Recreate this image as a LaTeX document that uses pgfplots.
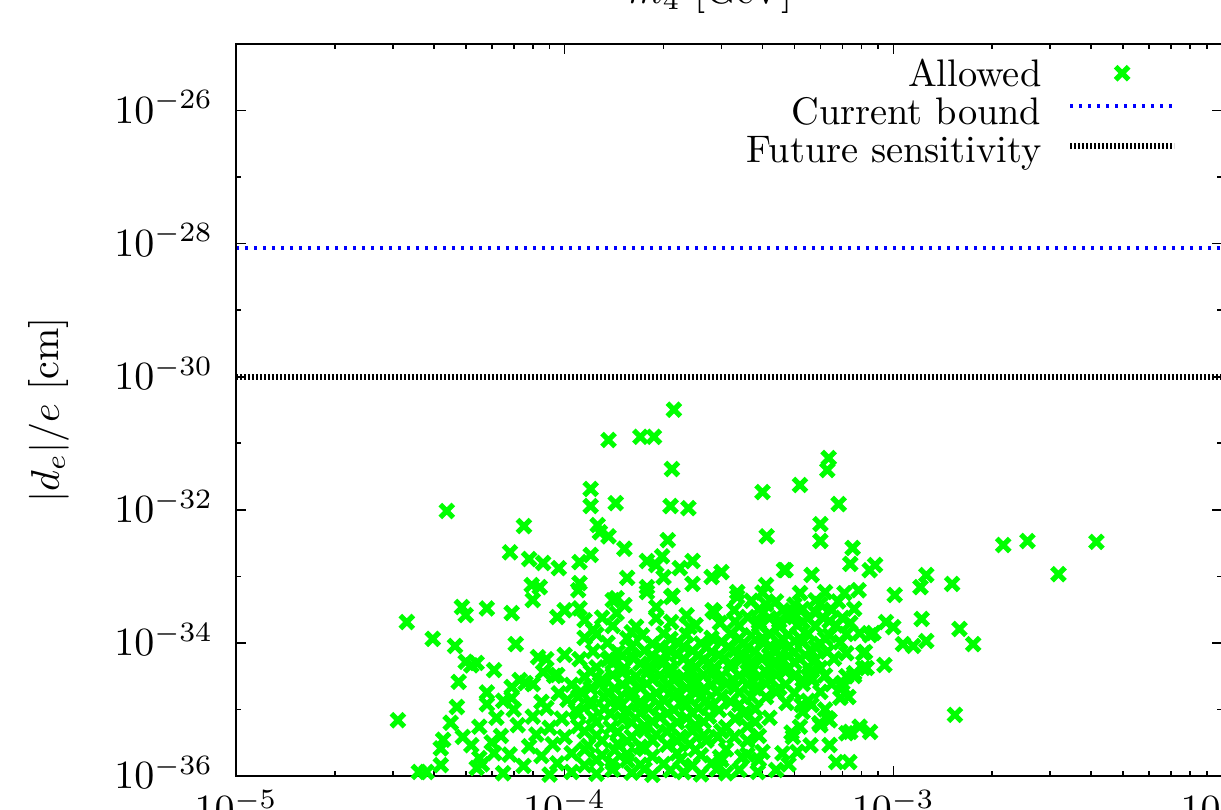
\documentclass[border=0pt]{standalone}
\usepackage{pgfplots}
\pgfplotsset{compat=1.18}
\usetikzlibrary{calc}
\definecolor{ptgreen}{RGB}{0,255,0}
\begin{document}
\begin{tikzpicture}
\begin{axis}[
  name=ax, at={(0,0)}, anchor=south west,
  scale only axis, width=246.5pt, height=183pt,
  xmode=log, ymode=log,
  xmin=1e-5, xmax=1e-2, ymin=1e-36, ymax=1e-25,
  xtick={1e-5,1e-4,1e-3,1e-2},
  ytick={1e-36,1e-34,1e-32,1e-30,1e-28,1e-26},
  minor ytick={1e-35,1e-33,1e-31,1e-29,1e-27,1e-25},
  tick align=inside,
  major tick length=2.5pt, minor tick length=1.25pt,
  tick style={black, line width=0.4pt},
  axis line style={line width=0.7pt},
  yticklabel style={anchor=base east, inner sep=0pt, xshift=-5.5pt, yshift=-3.2pt},
  clip=false, axis on top,
  legend style={draw=none, fill=none, at={(1,1)}, anchor=north east,
    xshift=-11.25pt, yshift=-3.75pt, inner sep=0pt, outer sep=0pt,
    row sep=0pt, column sep=6.5pt, font=\fontsize{9.6}{11}\selectfont,
    nodes={inner sep=0pt, text height=6.8pt, text depth=2.7pt}},
  legend cell align=right, legend plot pos=right,
]
\addplot[only marks, mark=x, mark size=2.3pt, color=ptgreen, line width=1.3pt,
  legend image code/.code={\draw[mark repeat=2,mark phase=2] plot coordinates {(0pt,1.2pt) (13pt,1.2pt) (26pt,1.2pt)};}]
table {
x y
2.15e-4 3.2e-31
1.36e-4 1.12e-31
1.70e-4 1.25e-31
1.87e-4 1.25e-31
2.12e-4 4.1e-32
1.2e-4 2.06e-32
1.2e-4 1.14e-32
1.43e-4 1.26e-32
2.1e-4 1.14e-32
2.38e-4 1.06e-32
4.38e-5 9.6e-33
4.0e-4 1.85e-32
5.2e-4 2.36e-32
6.36e-4 6.0e-32
6.3e-4 3.96e-32
6.82e-4 1.22e-32
7.52e-5 5.7e-33
6.82e-5 2.3e-33
4.12e-4 4.0e-33
6.0e-4 6.1e-33
6.0e-4 3.4e-33
2.06e-4 3.5e-33
1.26e-4 5.9e-33
1.28e-4 4.6e-33
1.36e-4 4.0e-33
1.52e-4 2.6e-33
7.52e-4 2.67e-33
7.4e-4 1.54e-33
8.47e-4 1.24e-33
8.8e-4 1.48e-33
4.7e-4 1.24e-33
5.64e-4 1.05e-33
7.84e-4 6.2e-34
1.01e-3 5.25e-34
1.26e-3 1.05e-33
1.21e-3 6.9e-34
1.51e-3 7.7e-34
2.16e-3 2.96e-33
2.56e-3 3.4e-33
4.15e-3 3.3e-33
3.18e-3 1.08e-33
1.59e-3 1.62e-34
1.75e-3 9.6e-35
1.54e-3 8.3e-36
1.22e-3 2.29e-34
1.26e-3 1.07e-34
1.15e-3 9.0e-35
1.07e-3 9.6e-35
9.5e-4 2.06e-34
1.0e-3 1.73e-34
9.4e-4 4.66e-35
8.1e-4 7.0e-35
8.1e-4 4.2e-35
7.6e-4 3.18e-35
8.5e-4 1.31e-34
7.9e-4 1.4e-34
7.4e-4 2.0e-34
7.0e-4 2.5e-35
7.3e-4 1.54e-35
6.9e-4 1.5e-35
5.64e-4 2.97e-35
5.64e-4 1.17e-35
5.3e-4 9.2e-36
6.4e-4 6.9e-36
6.0e-4 5.8e-36
7.4e-4 4.6e-36
7.9e-4 5.5e-36
8.5e-4 4.6e-36
4.9e-4 4.5e-36
3.31e-5 2.06e-34
3.97e-5 1.15e-34
3.11e-5 6.9e-36
4.87e-5 3.46e-34
5.0e-5 2.62e-34
5.8e-5 3.3e-34
6.9e-5 2.81e-34
4.64e-5 9.0e-35
7.1e-5 9.6e-35
8.3e-5 6.1e-35
5.0e-5 5.2e-35
5.4e-5 5.0e-35
5.2e-5 4.6e-35
6.1e-5 3.9e-35
4.76e-5 2.6e-35
4.7e-5 1.09e-35
5.8e-5 1.2e-35
4.5e-5 6.3e-36
4.9e-5 3.86e-36
4.27e-5 3.5e-36
4.2e-5 2.6e-36
4.2e-5 1.46e-36
3.8e-5 1.15e-36
3.6e-5 1.15e-36
5.5e-5 1.86e-36
5.4e-5 1.32e-36
6.0e-5 3.2e-36
6.1e-5 2.2e-36
7.8e-5 1.82e-33
8.6e-5 1.59e-33
9.6e-5 1.33e-33
1.11e-4 1.64e-33
1.2e-4 2.1e-33
1.78e-4 1.7e-33
1.9e-4 1.48e-33
1.98e-4 2.0e-33
2.24e-4 1.33e-33
2.45e-4 1.7e-33
2.0e-4 9.7e-34
2.13e-4 5.1e-34
2.45e-4 7.7e-34
1.55e-4 9.5e-34
1.78e-4 6.9e-34
2.8e-4 9.8e-34
3.0e-4 1.16e-33
3.35e-4 5.8e-34
4.1e-4 7.4e-34
4.65e-4 1.25e-33
7.94e-5 7.4e-34
8.4e-5 6.9e-34
8.0e-5 4.4e-34
1.1e-4 6.2e-34
1.11e-4 7.9e-34
1.44e-4 4.7e-34
1.9e-4 3.46e-34
2.82e-4 3.1e-34
2.11e-4 4.9e-34
1.52e-4 3.7e-34
1.78e-4 5.8e-34
2.11e-4 2.06e-34
2.35e-4 2.6e-34
2.4e-4 1.73e-34
2.86e-4 2.9e-34
2.97e-4 2.0e-34
3.35e-4 4.9e-34
3.28e-4 3.1e-34
4.1e-4 1.54e-35
4.73e-4 1.25e-35
5.26e-4 1.17e-35
5.65e-4 2.77e-35
5.96e-4 6.2e-36
6.3e-4 7.4e-36
6.4e-4 2.92e-36
6.7e-4 1.62e-36
7.35e-4 1.62e-36
7.2e-4 4.4e-36
7.0e-4 2.17e-35
8.2e-4 7.3e-35
8.3e-4 4.2e-35
7.6e-4 3.5e-35
7.2e-4 7.0e-35
8.7e-4 1.41e-34
2.93e-4 3.86e-36
3.28e-4 3.86e-36
3.47e-4 1.93e-36
2.97e-4 1.93e-36
3.87e-4 1.15e-36
4.4e-4 1.23e-36
4.95e-4 3.86e-36
4.6e-4 2.2e-36
5.1e-4 2.3e-36
4.0e-4 2.3e-36
7.3e-5 2.77e-35
6.9e-5 2.17e-35
6.9e-5 1.48e-35
7.6e-5 2.5e-35
8.6e-5 3.65e-35
9.5e-5 3.3e-35
1.0e-4 6.6e-35
1.11e-4 5.7e-35
1.15e-4 1.19e-34
1.22e-4 1.56e-34
9.5e-5 2.45e-34
1.0e-4 3.1e-34
1.11e-4 3.3e-34
1.15e-4 2.2e-34
1.4e-4 4.4e-34
1.44e-4 2.8e-34
1.6e-4 1.45e-34
1.37e-4 5.9e-35
1.5e-4 6.5e-35
6.5e-5 1.10e-36
9.0e-5 1.05e-36
1.05e-4 1.15e-36
1.25e-4 1.08e-36
1.6e-4 1.12e-36
1.85e-4 1.04e-36
2.3e-4 1.14e-36
2.6e-4 1.06e-36
3.1e-4 1.10e-36
5.6e-5 1.50e-36
7.5e-5 1.42e-36
9.5e-5 1.55e-36
1.15e-4 1.45e-36
1.4e-4 1.58e-36
1.7e-4 1.48e-36
2.0e-4 1.52e-36
2.45e-4 1.44e-36
2.8e-4 1.56e-36
4.8e-4 1.50e-36
6.8e-5 2.1e-36
8.5e-5 2.0e-36
1.05e-4 2.2e-36
1.3e-4 2.05e-36
1.55e-4 2.15e-36
1.85e-4 1.98e-36
2.2e-4 2.2e-36
2.6e-4 2.05e-36
3.6e-4 2.1e-36
5.2e-5 2.9e-36
7.8e-5 2.8e-36
9.2e-5 3.0e-36
1.18e-4 2.85e-36
1.45e-4 3.05e-36
1.7e-4 2.75e-36
2.05e-4 2.95e-36
2.4e-4 3.0e-36
5.6e-4 2.9e-36
6.4e-5 4.0e-36
8.2e-5 4.2e-36
1.0e-4 3.85e-36
1.25e-4 4.1e-36
1.6e-4 3.9e-36
1.9e-4 4.2e-36
2.25e-4 3.9e-36
2.65e-4 4.1e-36
3.9e-4 4.0e-36
5.5e-5 5.5e-36
7.2e-5 5.8e-36
9.0e-5 5.3e-36
1.1e-4 5.6e-36
1.38e-4 5.3e-36
1.75e-4 5.7e-36
2.1e-4 5.4e-36
2.5e-4 5.8e-36
3.1e-4 5.4e-36
3.6e-4 5.6e-36
5.2e-4 5.5e-36
6.2e-5 7.5e-36
8.0e-5 7.8e-36
9.8e-5 7.3e-36
1.22e-4 7.6e-36
1.5e-4 7.2e-36
1.95e-4 7.7e-36
2.35e-4 7.4e-36
2.75e-4 7.8e-36
3.3e-4 7.3e-36
4.2e-4 7.5e-36
7.0e-5 1.0e-35
8.8e-5 1.05e-35
1.08e-4 0.97e-35
1.32e-4 1.03e-35
1.55e-4 0.98e-35
1.8e-4 1.04e-35
2.15e-4 0.99e-35
2.55e-4 1.05e-35
2.95e-4 0.98e-35
3.8e-4 1.02e-35
6.2e-4 1.0e-35
6.5e-5 1.35e-35
8.5e-5 1.30e-35
1.02e-4 1.40e-35
1.2e-4 1.32e-35
1.45e-4 1.38e-35
1.7e-4 1.30e-35
2.0e-4 1.40e-35
2.3e-4 1.33e-35
2.7e-4 1.37e-35
3.2e-4 1.31e-35
5.5e-4 1.35e-35
5.8e-5 1.8e-35
9.6e-5 1.75e-35
1.12e-4 1.85e-35
1.35e-4 1.78e-35
1.6e-4 1.86e-35
1.9e-4 1.76e-35
2.2e-4 1.84e-35
2.5e-4 1.77e-35
2.9e-4 1.85e-35
3.4e-4 1.8e-35
4.4e-4 1.82e-35
5.0e-4 1.76e-35
6.0e-4 1.84e-35
8.0e-5 2.4e-35
1.05e-4 2.35e-35
1.28e-4 2.45e-35
1.5e-4 2.36e-35
1.78e-4 2.44e-35
2.05e-4 2.34e-35
2.45e-4 2.46e-35
2.8e-4 2.38e-35
3.1e-4 2.42e-35
3.6e-4 2.36e-35
4.1e-4 2.45e-35
4.7e-4 2.38e-35
5.3e-4 2.43e-35
6.5e-4 2.4e-35
9.3e-5 3.2e-35
1.15e-4 3.1e-35
1.4e-4 3.3e-35
1.65e-4 3.15e-35
1.95e-4 3.28e-35
2.3e-4 3.12e-35
2.65e-4 3.3e-35
3.0e-4 3.15e-35
3.4e-4 3.25e-35
3.9e-4 3.12e-35
4.4e-4 3.3e-35
5.0e-4 3.18e-35
6.2e-4 3.25e-35
7.2e-4 3.15e-35
1.25e-4 4.3e-35
1.52e-4 4.2e-35
1.8e-4 4.4e-35
2.1e-4 4.25e-35
2.5e-4 4.4e-35
2.85e-4 4.2e-35
3.2e-4 4.35e-35
3.7e-4 4.2e-35
4.2e-4 4.4e-35
4.8e-4 4.25e-35
5.5e-4 4.35e-35
6.0e-4 4.2e-35
8.8e-5 5.7e-35
1.35e-4 5.6e-35
1.62e-4 5.85e-35
1.95e-4 5.6e-35
2.3e-4 5.8e-35
2.65e-4 5.55e-35
3.05e-4 5.8e-35
3.45e-4 5.6e-35
4.0e-4 5.85e-35
4.6e-4 5.6e-35
5.2e-4 5.75e-35
5.8e-4 5.6e-35
6.6e-4 5.8e-35
1.22e-4 7.5e-35
1.45e-4 7.3e-35
1.75e-4 7.7e-35
2.1e-4 7.4e-35
2.45e-4 7.6e-35
2.8e-4 7.3e-35
3.3e-4 7.7e-35
3.8e-4 7.4e-35
4.4e-4 7.6e-35
5.0e-4 7.3e-35
5.6e-4 7.7e-35
6.3e-4 7.4e-35
1.35e-4 1.0e-34
1.85e-4 0.97e-34
2.2e-4 1.03e-34
2.6e-4 0.98e-34
3.0e-4 1.04e-34
3.5e-4 0.97e-34
4.0e-4 1.02e-34
4.5e-4 0.98e-34
5.3e-4 1.03e-34
6.0e-4 0.97e-34
6.9e-4 1.02e-34
1.25e-4 1.35e-34
1.72e-4 1.3e-34
2.0e-4 1.38e-34
2.35e-4 1.32e-34
3.2e-4 1.37e-34
3.7e-4 1.3e-34
4.2e-4 1.38e-34
4.8e-4 1.32e-34
5.5e-4 1.37e-34
6.4e-4 1.3e-34
7.2e-4 1.36e-34
1.4e-4 1.8e-34
1.65e-4 1.75e-34
2.5e-4 1.85e-34
3.4e-4 1.78e-34
3.9e-4 1.84e-34
4.5e-4 1.76e-34
5.1e-4 1.85e-34
5.8e-4 1.78e-34
6.7e-4 1.83e-34
1.3e-4 2.4e-34
1.9e-4 2.35e-34
3.6e-4 2.45e-34
4.2e-4 2.36e-34
5.0e-4 2.44e-34
5.5e-4 2.35e-34
6.1e-4 2.43e-34
7.0e-4 2.38e-34
3.9e-4 3.2e-34
4.6e-4 3.1e-34
5.3e-4 3.25e-34
6.5e-4 3.15e-34
7.6e-4 3.25e-34
3.7e-4 4.3e-34
4.4e-4 4.2e-34
5.8e-4 4.35e-34
6.8e-4 4.2e-34
4.0e-4 5.7e-34
5.2e-4 5.6e-34
6.2e-4 5.8e-34
7.1e-4 5.6e-34
1.4e-4 1.25e-36
1.75e-4 1.28e-36
2.1e-4 1.22e-36
2.9e-4 1.26e-36
3.4e-4 1.24e-36
1.25e-4 1.75e-36
1.55e-4 1.72e-36
2.25e-4 1.78e-36
3.0e-4 1.74e-36
3.9e-4 1.76e-36
1.15e-4 2.5e-36
1.42e-4 2.45e-36
1.75e-4 2.55e-36
2.5e-4 2.48e-36
3.1e-4 2.52e-36
1.3e-4 3.4e-36
1.55e-4 3.35e-36
1.85e-4 3.45e-36
2.2e-4 3.38e-36
2.7e-4 3.42e-36
3.6e-4 3.4e-36
1.15e-4 4.7e-36
1.45e-4 4.6e-36
1.75e-4 4.8e-36
2.05e-4 4.65e-36
2.45e-4 4.75e-36
3.0e-4 4.7e-36
1.25e-4 6.5e-36
1.6e-4 6.4e-36
1.85e-4 6.6e-36
2.2e-4 6.45e-36
2.65e-4 6.55e-36
3.8e-4 6.5e-36
1.1e-4 8.7e-36
1.38e-4 8.6e-36
1.7e-4 8.8e-36
2.05e-4 8.65e-36
2.45e-4 8.75e-36
3.5e-4 8.7e-36
1.2e-4 1.17e-35
1.45e-4 1.15e-35
1.68e-4 1.19e-35
1.95e-4 1.16e-35
2.35e-4 1.18e-35
2.75e-4 1.15e-35
3.4e-4 1.18e-35
1.1e-4 1.55e-35
1.32e-4 1.53e-35
1.58e-4 1.57e-35
1.82e-4 1.54e-35
2.15e-4 1.56e-35
2.6e-4 1.53e-35
3.0e-4 1.57e-35
3.7e-4 1.55e-35
1.2e-4 2.1e-35
1.42e-4 2.07e-35
1.7e-4 2.13e-35
2.0e-4 2.08e-35
2.35e-4 2.12e-35
2.65e-4 2.07e-35
3.3e-4 2.12e-35
3.8e-4 2.08e-35
4.5e-4 2.1e-35
1.3e-4 2.8e-35
1.58e-4 2.75e-35
1.85e-4 2.85e-35
2.15e-4 2.77e-35
2.5e-4 2.83e-35
2.9e-4 2.76e-35
3.25e-4 2.84e-35
3.7e-4 2.78e-35
4.2e-4 2.82e-35
5.3e-4 2.8e-35
1.2e-4 3.7e-35
1.5e-4 3.65e-35
1.8e-4 3.75e-35
2.1e-4 3.66e-35
2.45e-4 3.74e-35
2.85e-4 3.67e-35
3.6e-4 3.73e-35
4.1e-4 3.66e-35
4.7e-4 3.72e-35
5.6e-4 3.7e-35
1.4e-4 5.0e-35
1.7e-4 4.9e-35
2.0e-4 5.1e-35
2.4e-4 4.95e-35
2.75e-4 5.05e-35
3.2e-4 4.92e-35
3.7e-4 5.08e-35
4.3e-4 4.95e-35
5.0e-4 5.05e-35
1.6e-4 6.5e-35
1.85e-4 6.4e-35
2.2e-4 6.6e-35
2.55e-4 6.45e-35
2.95e-4 6.55e-35
3.5e-4 6.42e-35
4.2e-4 6.58e-35
4.8e-4 6.45e-35
5.4e-4 6.55e-35
1.6e-4 8.7e-35
1.95e-4 8.6e-35
2.3e-4 8.8e-35
2.7e-4 8.65e-35
3.15e-4 8.75e-35
3.6e-4 8.62e-35
4.2e-4 8.78e-35
4.8e-4 8.65e-35
5.8e-4 8.7e-35
1.55e-4 1.17e-34
2.1e-4 1.15e-34
2.8e-4 1.19e-34
3.4e-4 1.16e-34
4.0e-4 1.18e-34
4.6e-4 1.15e-34
5.2e-4 1.19e-34
6.2e-4 1.17e-34
3.3e-4 2.1e-34
3.9e-4 2.07e-34
4.5e-4 2.13e-34
5.3e-4 2.08e-34
6.4e-4 2.12e-34
4.0e-4 2.8e-34
4.9e-4 2.75e-34
5.8e-4 2.85e-34
4.1e-4 3.8e-34
5.0e-4 3.75e-34
6.0e-4 3.85e-34
};
\addlegendentry{Allowed}
\addplot[blue, line width=1pt, dash pattern=on 0.75pt off 1.5pt,
  legend image code/.code={\draw (0pt,2.5pt) -- (26pt,2.5pt);}]
  coordinates {(1e-5,8.7e-29) (1e-2,8.7e-29)};
\addlegendentry{Current bound}
\addplot[black, line width=1.4pt, dash pattern=on 0.4pt off 0.6pt,
  legend image code/.code={\draw (0pt,2pt) -- (26pt,2pt);}]
  coordinates {(1e-5,1e-30) (1e-2,1e-30)};
\addlegendentry{Future sensitivity}
\end{axis}
\node[anchor=base] at ($(ax.south west)+(118.5pt,193.2pt)$) {$m_4$ [GeV]};
\node[rotate=90] at ($(ax.south west)+(-46.75pt,91.5pt)$) {$|d_e|/e$ [cm]};
\pgfresetboundingbox
\path[use as bounding box] ($(ax.south west)+(-59pt,-8.5pt)$) rectangle ($(ax.south west)+(246.25pt,194pt)$);
\end{tikzpicture}
\end{document}
